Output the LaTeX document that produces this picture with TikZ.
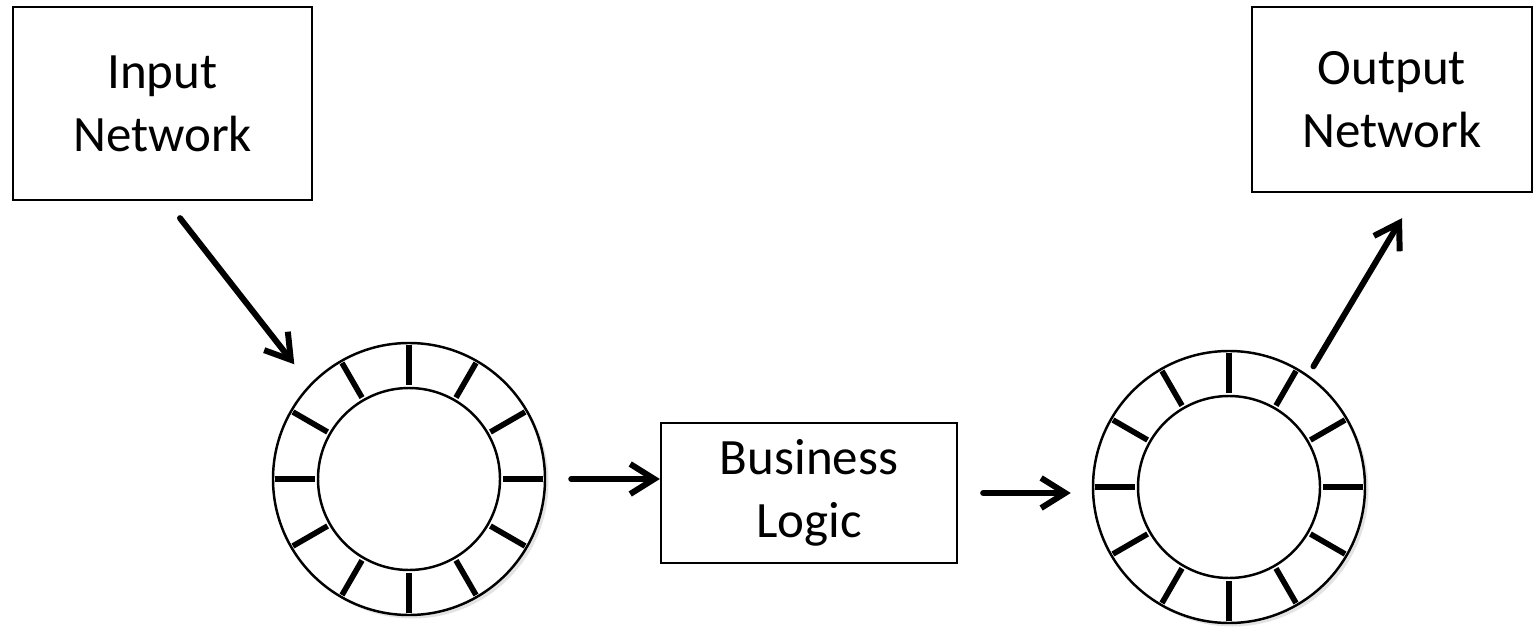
\documentclass[tikz,border=0pt]{standalone}
\usepackage{fontspec}
\setmainfont{Carlito}
\usetikzlibrary{arrows.meta, positioning, shadows}

\begin{document}
\begin{tikzpicture}[
    font=\fontsize{29}{36}\selectfont,
    netbox/.style={
        draw,
        line width=1.3pt,
        align=center,
        inner sep=0pt
    },
    ring/.style={
        draw,
        circle,
        line width=1.4pt,
        fill=white,
        inner sep=0pt
    },
    slot/.style={line width=3.2pt},
    arrow/.style={-{Straight Barb[length=0.48cm, width=0.6cm]}, line width=3.4pt, line cap=round}
]
\useasboundingbox (0,0) rectangle (30.68,12.52);

% Networks
\node[netbox, minimum width=5.98cm, minimum height=3.86cm] (innet) at (3.25,10.45) {Input\\Network};
\node[netbox, minimum width=5.6cm, minimum height=3.7cm] (outnet) at (27.84,10.53) {Output\\Network};

% Business logic
\node[netbox, minimum width=5.92cm, minimum height=2.8cm] (logic) at (16.18,2.66) {Business\\Logic};

% Ring buffers
\node[ring, minimum size=5.44cm, drop shadow={opacity=0.22, shadow xshift=0.07cm, shadow yshift=-0.07cm}] (ringA) at (8.18,2.94) {};
\node[ring, minimum size=3.64cm] (ringAin) at (ringA.center) {};
\foreach \a in {0,30,...,330}
    \draw[slot] (ringA.center) ++(\a:1.88) -- ++(\a:0.8);

\node[ring, minimum size=5.44cm, drop shadow={opacity=0.22, shadow xshift=0.07cm, shadow yshift=-0.07cm}] (ringB) at (24.58,2.78) {};
\node[ring, minimum size=3.64cm] (ringBin) at (ringB.center) {};
\foreach \a in {0,30,...,330}
    \draw[slot] (ringB.center) ++(\a:1.88) -- ++(\a:0.8);

% Connections
\draw[arrow] ([xshift=0.35cm, yshift=-0.34cm]innet.south) -- ([shift={(135:0.5cm)}]ringA.135);
\draw[arrow, shorten <=0.5cm] (ringA.east) -- (ringA.east -| logic.west);
\draw[arrow, shorten <=0.5cm, shorten >=0.42cm] (logic.east) -- (logic.east -| ringB.west);
\draw[arrow] ([shift={(55:0.2cm)}]ringB.55) -- ([xshift=0.2cm, yshift=-0.5cm]outnet.south);

\end{tikzpicture}
\end{document}
